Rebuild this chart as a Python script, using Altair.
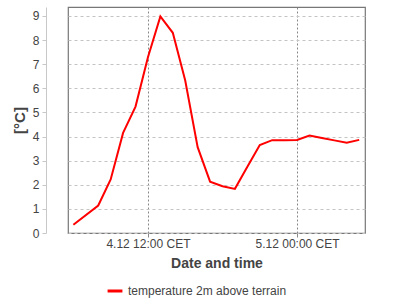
import altair as alt
import pandas as pd

times = [
    "2016-12-04T06:00:00Z", "2016-12-04T08:00:00Z", "2016-12-04T09:00:00Z",
    "2016-12-04T10:00:00Z", "2016-12-04T11:00:00Z", "2016-12-04T12:00:00Z",
    "2016-12-04T13:00:00Z", "2016-12-04T14:00:00Z", "2016-12-04T15:00:00Z",
    "2016-12-04T16:00:00Z", "2016-12-04T17:00:00Z", "2016-12-04T18:00:00Z",
    "2016-12-04T19:00:00Z", "2016-12-04T20:00:00Z", "2016-12-04T21:00:00Z",
    "2016-12-04T22:00:00Z", "2016-12-04T23:00:00Z", "2016-12-05T00:00:00Z",
    "2016-12-05T01:00:00Z", "2016-12-05T02:00:00Z", "2016-12-05T03:00:00Z",
    "2016-12-05T04:00:00Z", "2016-12-05T05:00:00Z",
]
temps = [
    0.34, 1.14, 2.22, 4.15, 5.24, 7.29,
    8.98, 8.30, 6.32, 3.56, 2.13, 1.94,
    1.83, 2.75, 3.65, 3.85, 3.85, 3.86,
    4.04, 3.94, 3.84, 3.74, 3.86,
]
series_name = "temperature 2m above terrain"
y_ticks = [0, 1, 2, 3, 4, 5, 6, 7, 8, 9]

df = pd.DataFrame({"time": times, "temp": temps, "series": series_name})

FONT = "Liberation Sans"

x_enc = alt.X(
    "time:T",
    scale=alt.Scale(
        type="utc",
        domain=[
            alt.DateTime(year=2016, month=12, date=4, hours=5, minutes=34, utc=True),
            alt.DateTime(year=2016, month=12, date=5, hours=5, minutes=28, utc=True),
        ],
    ),
    axis=alt.Axis(
        title="Date and time",
        values=[
            alt.DateTime(year=2016, month=12, date=4, hours=12, utc=True),
            alt.DateTime(year=2016, month=12, date=5, hours=0, utc=True),
        ],
        labelExpr="utcFormat(datum.value, '%-d.%m %H:%M') + ' CET'",
        grid=True,
        gridColor="#888888",
        gridDash=[2, 2],
        gridWidth=1,
        domain=False,
        ticks=True,
        tickColor="#888888",
        tickSize=4,
        labelFontSize=12,
        labelColor="#444444",
        labelFont=FONT,
        labelPadding=1,
        titleFont=FONT,
        titleFontSize=14,
        titleFontWeight="bold",
        titleColor="#444444",
        titlePadding=7,
    ),
)

y_enc = alt.Y(
    "temp:Q",
    scale=alt.Scale(domain=[0, 9.37], nice=False, zero=True),
    axis=alt.Axis(
        title="[°C]",
        values=y_ticks,
        offset=22,
        grid=True,
        gridColor="#c4c4c4",
        gridDash=[3, 3],
        domainColor="#c8c8c8",
        tickColor="#c8c8c8",
        tickSize=4,
        labelFontSize=12,
        labelColor="#444444",
        labelFont=FONT,
        labelPadding=3,
        titleFont=FONT,
        titleFontSize=15,
        titleFontWeight="bold",
        titleColor="#444444",
        titlePadding=5,
    ),
)

chart = (
    alt.Chart(df)
    .mark_line(strokeWidth=2, clip=True)
    .encode(
        x=x_enc,
        y=y_enc,
        color=alt.Color(
            "series:N",
            scale=alt.Scale(domain=[series_name], range=["#ff0000"]),
            legend=alt.Legend(
                title=None,
                orient="none",
                legendX=38,
                legendY=275,
                symbolType="stroke",
                symbolStrokeWidth=3,
                symbolSize=220,
                labelFont=FONT,
                labelFontSize=12,
                labelColor="#444444",
                labelLimit=300,
            ),
        ),
    )
    .properties(
        width=297,
        height=226,
        autosize=alt.AutoSizeParams(type="none"),
        padding={"left": 68, "top": 7, "right": 35, "bottom": 67},
        background="white",
    )
    .configure_view(stroke="#777777", strokeWidth=1.2)
)

chart.save("out.html", embed_options={"renderer": "svg", "actions": False})
